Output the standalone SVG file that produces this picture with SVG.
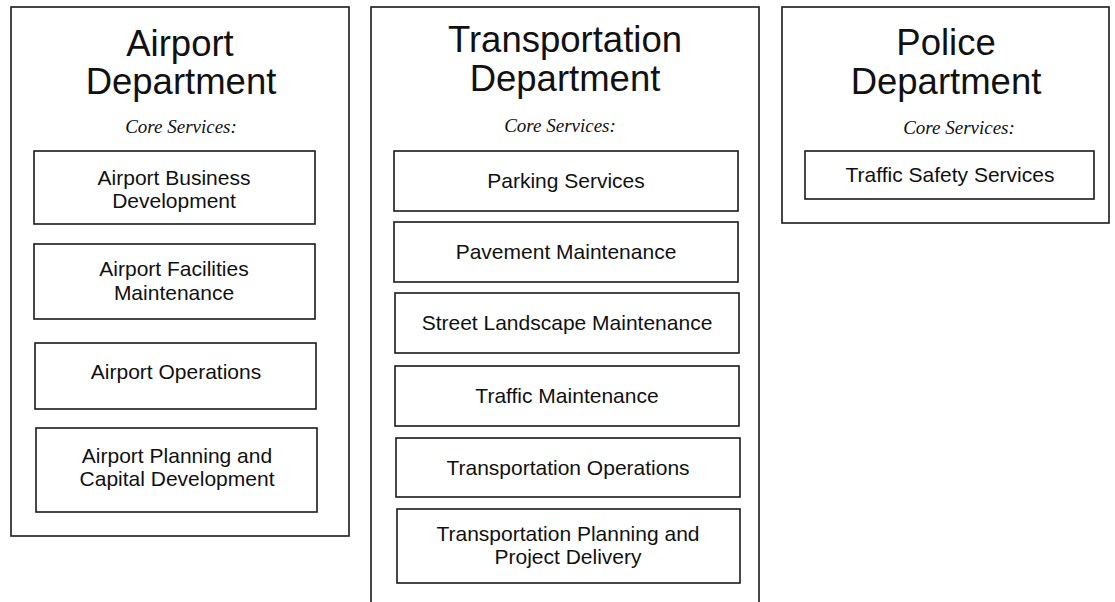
<svg xmlns="http://www.w3.org/2000/svg" width="1115" height="602" viewBox="0 0 1115 602">
<style>
.dept{fill:#fff;stroke:#1a1a1a;stroke-width:1.6}
.svc{fill:#fff;stroke:#1a1a1a;stroke-width:1.6}
.title{font-family:"Liberation Sans",Arial,sans-serif;font-size:36.5px;fill:#111;text-anchor:middle}
.core{font-family:"Liberation Serif","Times New Roman",serif;font-style:italic;font-size:19px;fill:#111;text-anchor:middle}
.lbl{font-family:"Liberation Sans",Arial,sans-serif;font-size:21px;fill:#111;text-anchor:middle}
</style>
<rect width="1115" height="602" fill="#fff"/>
<g id="airport">
<rect class="dept" x="11" y="7" width="338" height="529"/>
<text class="title" x="180" y="56">Airport</text>
<text class="title" x="181" y="94">Department</text>
<text class="core" x="181" y="133">Core Services:</text>
</g>
<g id="airport-business">
<rect class="svc" x="34" y="151" width="281" height="73"/>
<text class="lbl" x="174" y="185">Airport Business</text>
<text class="lbl" x="174" y="208">Development</text>
</g>
<g id="airport-facilities">
<rect class="svc" x="34" y="244" width="281" height="75"/>
<text class="lbl" x="174" y="276">Airport Facilities</text>
<text class="lbl" x="174" y="300">Maintenance</text>
</g>
<g id="airport-operations">
<rect class="svc" x="35" y="343" width="281" height="66"/>
<text class="lbl" x="176" y="379">Airport Operations</text>
</g>
<g id="airport-planning">
<rect class="svc" x="36" y="428" width="281" height="84"/>
<text class="lbl" x="177" y="463">Airport Planning and</text>
<text class="lbl" x="177" y="486">Capital Development</text>
</g>
<g id="transportation">
<rect class="dept" x="371" y="7" width="388" height="600"/>
<text class="title" x="565" y="52">Transportation</text>
<text class="title" x="565" y="91">Department</text>
<text class="core" x="560" y="132">Core Services:</text>
</g>
<g id="parking">
<rect class="svc" x="394" y="151" width="344" height="60"/>
<text class="lbl" x="566" y="188">Parking Services</text>
</g>
<g id="pavement">
<rect class="svc" x="394" y="222" width="344" height="60"/>
<text class="lbl" x="566" y="259">Pavement Maintenance</text>
</g>
<g id="street">
<rect class="svc" x="395" y="293" width="344" height="60"/>
<text class="lbl" x="567" y="330">Street Landscape Maintenance</text>
</g>
<g id="traffic-maint">
<rect class="svc" x="395" y="366" width="344" height="60"/>
<text class="lbl" x="567" y="403">Traffic Maintenance</text>
</g>
<g id="transport-ops">
<rect class="svc" x="396" y="438" width="344" height="59"/>
<text class="lbl" x="568" y="475">Transportation Operations</text>
</g>
<g id="transport-planning">
<rect class="svc" x="397" y="509" width="343" height="74"/>
<text class="lbl" x="568" y="541">Transportation Planning and</text>
<text class="lbl" x="568" y="564">Project Delivery</text>
</g>
<g id="police">
<rect class="dept" x="782" y="7" width="327" height="216"/>
<text class="title" x="946" y="55">Police</text>
<text class="title" x="946" y="94">Department</text>
<text class="core" x="959" y="134">Core Services:</text>
</g>
<g id="traffic-safety">
<rect class="svc" x="805" y="151" width="289" height="48"/>
<text class="lbl" x="950" y="182">Traffic Safety Services</text>
</g>
<g id="connectors"></g>
</svg>
